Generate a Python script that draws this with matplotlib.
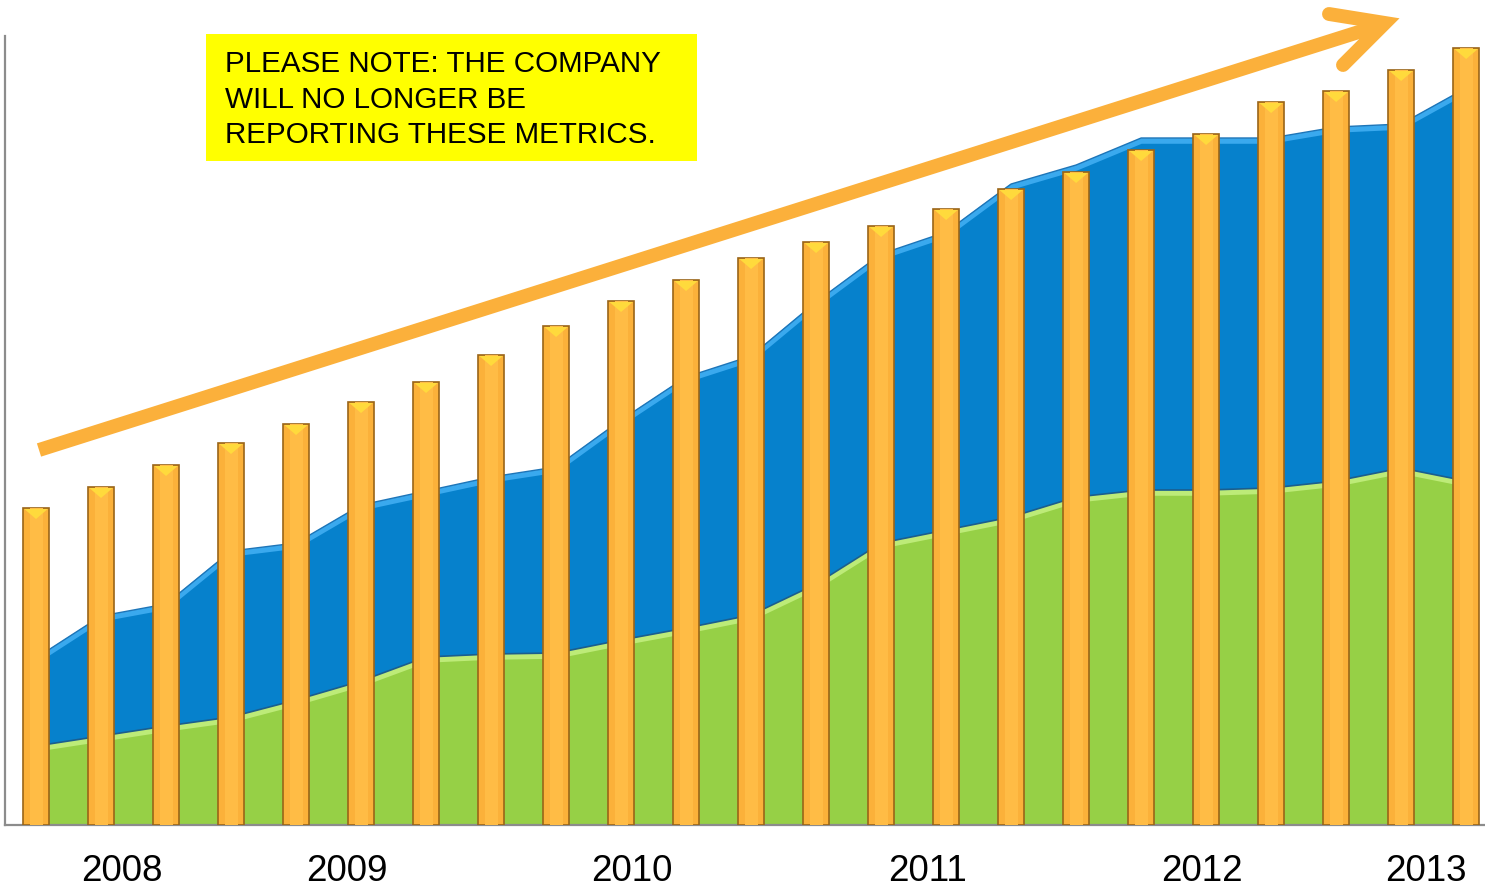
import matplotlib
matplotlib.use("Agg")
import matplotlib.pyplot as plt
import numpy as np
from matplotlib.lines import Line2D
from matplotlib.patches import Rectangle

plt.rcParams['font.family'] = ['Liberation Sans', 'DejaVu Sans']

# ---- data (arbitrary units) ----
bar_values = [317, 338, 360, 382, 401, 423, 443, 470, 499, 524, 545, 567,
              583, 599, 616, 636, 653, 675, 691, 723, 734, 755, 777]
green_values = [79, 89, 99, 108, 125, 144, 168, 171, 172, 185, 197, 210,
                241, 282, 295, 308, 328, 335, 335, 337, 344, 357, 344]
blue_values = [88, 120, 122, 166, 157, 176, 166, 177, 186, 220, 251, 259,
               282, 289, 298, 333, 332, 352, 352, 350, 354, 344, 393]
year_labels = ["2008", "2009", "2010", "2011", "2012", "2013"]
year_positions = [1.32, 4.78, 9.17, 13.72, 17.94, 21.38]
note_lines = ["PLEASE NOTE: THE COMPANY", "WILL NO LONGER BE",
              "REPORTING THESE METRICS."]

W, H = 1485, 889
fig = plt.figure(figsize=(W / 100, H / 100), dpi=100)
ax = fig.add_axes([5 / W, (H - 825) / H, (W - 5) / W, (825 - 36) / H])

x = np.arange(len(bar_values))
green = np.array(green_values)
total = green + np.array(blue_values)

ax.fill_between(x, 0, green, color='#96D046', lw=0, zorder=1)
ax.fill_between(x, green, total, color='#0681CC', lw=0, zorder=1)
ax.plot(x, total - 3, color='#3AA9EE', lw=4, zorder=1.5, solid_joinstyle='round')
ax.plot(x, total, color='#1D75B8', lw=1, zorder=1.6)
ax.plot(x, green - 3, color='#BDEB78', lw=4, zorder=1.5, solid_joinstyle='round')
ax.plot(x, green, color='#1B5E8E', lw=1.2, zorder=1.6)

bw = 0.40
ax.bar(x, bar_values, width=bw, color='#FBB13A', edgecolor='#9A6518',
       linewidth=1.2, zorder=3)
ax.bar(x, bar_values, width=bw * 0.5, color='#FFBC45', linewidth=0, zorder=3.1)
# bevel highlight on bar tops (triangles derived from the bar values)
depth = 11
for xi, h in zip(x, bar_values):
    ax.fill([xi - bw / 2 + 0.02, xi + bw / 2 - 0.02, xi],
            [h - 1, h - 1, h - depth], color='#FFDA3C', lw=0, zorder=4)

ax.set_xlim(-0.477, 22.29)
ax.set_ylim(0, 789)
ax.set_yticks([])
ax.set_xticks([])
label_y = (825 - 881) / (825 - 36)   # baseline just above the lower edge
for pos, lab in zip(year_positions, year_labels):
    ax.text(pos, label_y, lab, transform=ax.get_xaxis_transform(),
            fontsize=26.5, ha='center', va='baseline', clip_on=False)
for s in ['top', 'right']:
    ax.spines[s].set_visible(False)
for s in ['left', 'bottom']:
    ax.spines[s].set_color('#8C8C8C')
    ax.spines[s].set_linewidth(1.6)
ax.set_facecolor('white')


def fx(px):
    return px / W


def fy(py):
    return 1 - py / H


arrow_c = '#FBB03B'
fig.add_artist(Line2D([fx(39), fx(1384)], [fy(450), fy(24)], color=arrow_c,
                      lw=10, solid_capstyle='butt', zorder=10))
fig.add_artist(Line2D([fx(1329), fx(1385), fx(1343)],
                      [fy(14), fy(23), fy(65)], color=arrow_c, lw=10,
                      solid_capstyle='round', solid_joinstyle='miter', zorder=10))

fig.add_artist(Rectangle((fx(206), fy(161)), fx(697) - fx(206), fy(34) - fy(161),
                         facecolor='#FFFF00', edgecolor='none', zorder=11))
for i, line in enumerate(note_lines):
    fig.text(fx(225), fy(72 + 35.5 * i), line, fontsize=21.3, color='black',
             ha='left', va='baseline', zorder=12)

fig.savefig('out.png', dpi=100)
